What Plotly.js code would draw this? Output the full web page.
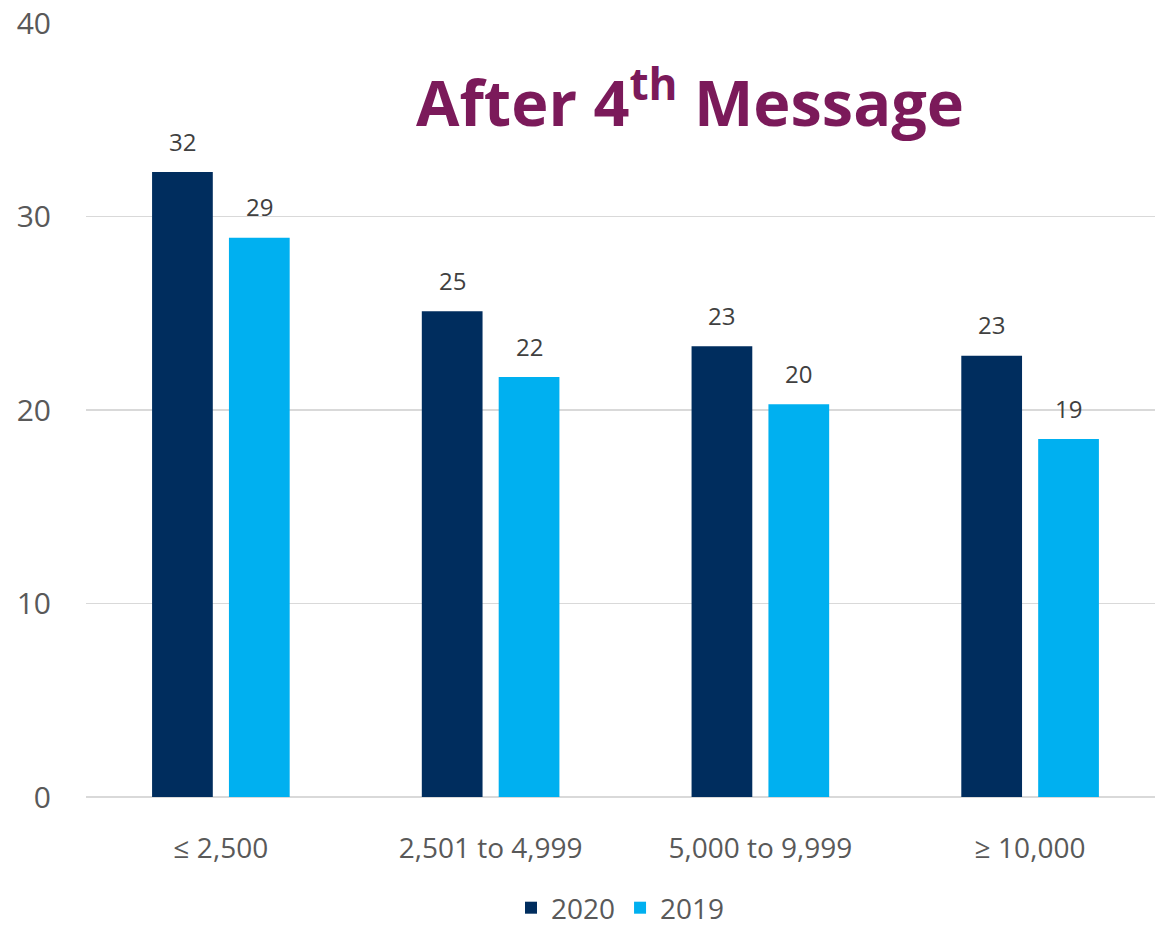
<!DOCTYPE html>
<html>
<head>
<meta charset="utf-8">
<script src="https://cdn.plot.ly/plotly-3.0.1.min.js"></script>
<style>html,body{margin:0;padding:0;background:#fff;}#chart{width:1155px;height:929px;}</style>
</head>
<body>
<div id="chart"></div>
<script>
var categories = ["≤ 2,500", "2,501 to 4,999", "5,000 to 9,999", "≥ 10,000"];
var values2020 = [32.3, 25.1, 23.3, 22.8];
var values2019 = [28.9, 21.7, 20.3, 18.5];
var labels2020 = ["32", "25", "23", "23"];
var labels2019 = ["29", "22", "20", "19"];
var yTicks = [0, 10, 20, 30, 40];

var FONT = "'Open Sans', 'Liberation Sans', sans-serif";

var traces = [
  {type: "bar", name: "2020", x: categories, y: values2020,
   marker: {color: "#002D5E"}, hoverinfo: "skip"},
  {type: "bar", name: "2019", x: categories, y: values2019,
   marker: {color: "#00B0F0"}, hoverinfo: "skip"}
];

var annotations = [
  {text: "<b>After 4<sup>th</sup> Message</b>", xref: "paper", yref: "paper",
   x: 0.565, y: 0.902, xanchor: "center", yanchor: "middle", showarrow: false,
   font: {family: FONT, size: 63, color: "#7B1A5A"}}
];
function addLabels(vals, labels, shift) {
  for (var i = 0; i < vals.length; i++) {
    annotations.push({x: categories[i], y: vals[i], xref: "x", yref: "y", text: labels[i],
      showarrow: false, xshift: shift, yshift: 31, yanchor: "middle",
      font: {family: FONT, size: 24, color: "#404040"}});
  }
}
addLabels(values2020, labels2020, -38.5);
addLabels(values2019, labels2019, 38.5);

var layout = {
  width: 1155, height: 929,
  paper_bgcolor: "#fff", plot_bgcolor: "#fff",
  margin: {l: 86, r: 0, t: 23, b: 132, autoexpand: false},
  barmode: "group", bargap: 0.43, bargroupgap: 0.21,
  showlegend: true,
  legend: {orientation: "h", x: 0.5, xanchor: "center", yref: "container", y: 21 / 929, yanchor: "middle",
           font: {family: FONT, size: 28, color: "#595959"},
           itemwidth: 30, traceorder: "normal"},
  xaxis: {type: "category", range: [-0.5, 3.463], showgrid: false, zeroline: false, automargin: false,
          showline: false, ticks: "", ticklabelstandoff: 32,
          tickfont: {family: FONT, size: 28, color: "#595959"}},
  yaxis: {range: [0, 40], tickvals: yTicks, showgrid: true, gridcolor: "#D9D9D9", gridwidth: 1.5, automargin: false,
          zeroline: true, zerolinecolor: "#D9D9D9", zerolinewidth: 1.5, showline: false, ticks: "",
          ticklabelstandoff: 34,
          tickfont: {family: FONT, size: 30, color: "#595959"}},
  annotations: annotations
};

Plotly.newPlot("chart", traces, layout, {displayModeBar: false, staticPlot: true});
</script>
</body>
</html>
